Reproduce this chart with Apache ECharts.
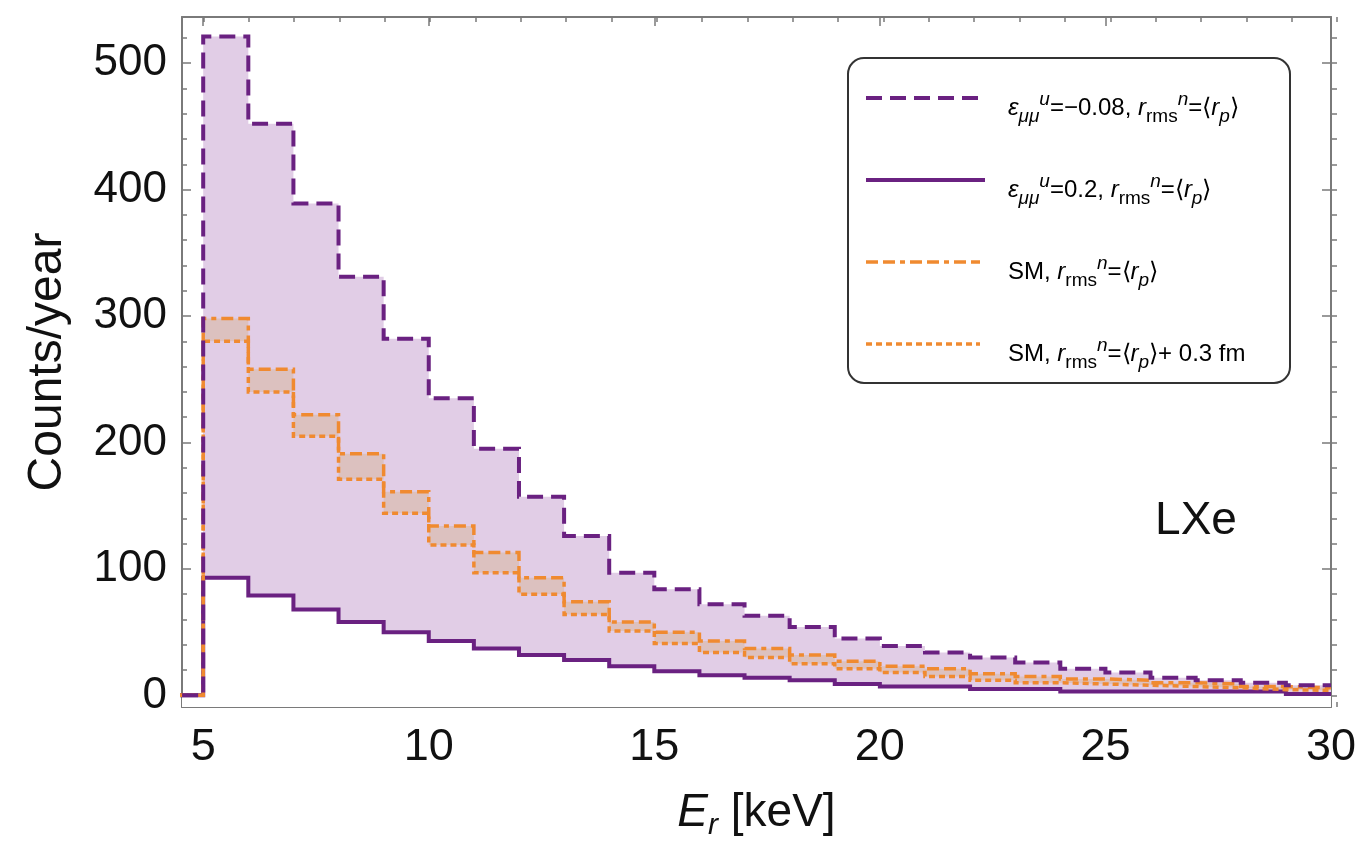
<!DOCTYPE html>
<html>
<head>
<meta charset="utf-8">
<script src="https://cdn.jsdelivr.net/npm/echarts@6/dist/echarts.min.js"></script>
<style>
  html, body { margin: 0; padding: 0; background: #fff; }
  #chart { width: 1359px; height: 852px; }
</style>
</head>
<body>
<div id="chart"></div>
<script>
// Recoil-energy bins (keV): left edges 5..29, last edge 30
const binEdges = [5, 6, 7, 8, 9, 10, 11, 12, 13, 14, 15, 16, 17, 18, 19, 20, 21, 22, 23, 24, 25, 26, 27, 28, 29, 30];

// Counts/year per bin
const epsNeg008 = [521, 452, 389, 331, 282, 235, 195, 157, 126, 97, 84, 72, 63, 54, 45, 39, 34, 30, 26, 21, 18, 14, 12, 10, 8];
const epsPos02 = [93, 79, 68, 58, 50, 43, 37, 32, 28, 23, 19, 16, 14, 12, 9, 7, 7, 5, 5, 3, 3, 3, 3, 3, 1];
const smRp = [298, 258, 222, 191, 161, 134, 113, 93, 74, 58, 50, 43, 37, 32, 27, 23, 21, 17, 15, 13, 12, 10, 9, 7, 6];
const smRpPlus = [280, 240, 205, 171, 144, 119, 97, 80, 64, 51, 41, 34, 30, 25, 21, 18, 15, 12, 10, 9, 8, 7, 6, 4.5, 4];

// Axis ticks
const xMajorTicks = [5, 10, 15, 20, 25, 30];
const xMinorTicks = [5, 6, 7, 8, 9, 10, 11, 12, 13, 14, 15, 16, 17, 18, 19, 20, 21, 22, 23, 24, 25, 26, 27, 28, 29, 30];
const yMajorTicks = [0, 100, 200, 300, 400, 500];
const yMinorTicks = [0, 20, 40, 60, 80, 100, 120, 140, 160, 180, 200, 220, 240, 260, 280, 300, 320, 340, 360, 380, 400, 420, 440, 460, 480, 500, 520];

const PURPLE = '#6a2181';
const ORANGE = '#f08a30';
const LAVENDER = '#e1cde6';
const BAND = '#dcc1bf';
const FRAME = '#7a7a7a';
const FONT = '"Liberation Sans", Arial, Helvetica, sans-serif';

const DASH_EPS = [16, 8];
const DASH_SM = [12, 5, 12, 5, 5, 5];
const DASH_SM_PLUS = [6, 4];

// Histogram outline: zero before the first edge, then one point per bin (step drawn by the line series)
function stepPoints(values) {
  const pts = [[binEdges[0] - 1, 0]];
  values.forEach((v, i) => pts.push([binEdges[i], v]));
  pts.push([binEdges[binEdges.length - 1], values[values.length - 1]]);
  return pts;
}

const X_MIN = 4.53, X_MAX = 30;
const Y_MIN = -9.2, Y_MAX = 536.5;
const gridBox = { left: 182, right: 22, top: 17, bottom: 145, containLabel: false };

function xAxisDef(gridIndex, position, ticks, len, withLabels) {
  return {
    type: 'value', gridIndex, position, min: X_MIN, max: X_MAX,
    axisLine: { show: gridIndex === 0, onZero: false, lineStyle: { color: FRAME, width: 2 } },
    axisTick: { show: true, inside: true, length: len, customValues: ticks, lineStyle: { color: FRAME, width: 1.5 } },
    axisLabel: withLabels ? {
      show: true, customValues: xMajorTicks, fontSize: 45, fontFamily: FONT, color: '#111', margin: 18
    } : { show: false },
    splitLine: { show: false }
  };
}
function yAxisDef(gridIndex, position, ticks, len, withLabels) {
  return {
    type: 'value', gridIndex, position, min: Y_MIN, max: Y_MAX,
    axisLine: { show: gridIndex === 0, onZero: false, lineStyle: { color: FRAME, width: 2 } },
    axisTick: { show: true, inside: true, length: len, customValues: ticks, lineStyle: { color: FRAME, width: 1.5 } },
    axisLabel: withLabels ? {
      show: true, customValues: yMajorTicks, fontSize: 44, fontFamily: FONT, color: '#111', margin: 15
    } : { show: false },
    splitLine: { show: false }
  };
}

const xAxes = [
  xAxisDef(0, 'bottom', xMajorTicks, 9, true),
  xAxisDef(0, 'top', xMajorTicks, 9, false),
  xAxisDef(1, 'bottom', xMinorTicks, 5, false),
  xAxisDef(1, 'top', xMinorTicks, 5, false)
];
xAxes[0].name = '{i|E}{sb|r}{t| [keV]}';
xAxes[0].nameLocation = 'middle';
xAxes[0].nameGap = 78;
xAxes[0].nameTextStyle = {
  fontFamily: FONT, color: '#111',
  rich: {
    i: { fontSize: 46, fontStyle: 'italic', fontFamily: FONT, color: '#111', lineHeight: 56, verticalAlign: 'middle' },
    sb: { fontSize: 30, fontStyle: 'italic', fontFamily: FONT, color: '#111', lineHeight: 30, verticalAlign: 'bottom' },
    t: { fontSize: 46, fontFamily: FONT, color: '#111', lineHeight: 56, verticalAlign: 'middle' }
  }
};

const yAxes = [
  yAxisDef(0, 'left', yMajorTicks, 9, true),
  yAxisDef(0, 'right', yMajorTicks, 9, false),
  yAxisDef(1, 'left', yMinorTicks, 5, false),
  yAxisDef(1, 'right', yMinorTicks, 5, false)
];
yAxes[0].name = 'Counts/year';
yAxes[0].nameLocation = 'middle';
yAxes[0].nameGap = 110;
yAxes[0].nameTextStyle = { fontSize: 48, fontFamily: FONT, color: '#111' };

function fillSeries(values, color, origin) {
  return {
    type: 'line', xAxisIndex: 0, yAxisIndex: 0, step: 'end', symbol: 'none', z: 1,
    data: stepPoints(values), lineStyle: { width: 0, opacity: 0 },
    areaStyle: { color: color, opacity: 1, origin: origin || 'auto' }, silent: true
  };
}
function outlineSeries(name, values, color, type, width) {
  return {
    name, type: 'line', xAxisIndex: 0, yAxisIndex: 0, step: 'end', symbol: 'none', z: 3,
    data: stepPoints(values),
    lineStyle: { color, width, type, cap: 'butt', join: 'miter' }
  };
}

const series = [
  // shaded bands (layered: outer band, SM band, back to lavender, white below lower edge)
  fillSeries(epsNeg008, LAVENDER),
  fillSeries(smRp, BAND),
  fillSeries(smRpPlus, LAVENDER),
  fillSeries(epsPos02, '#ffffff', 'start'),
  // outlines
  outlineSeries('eps0.2', epsPos02, PURPLE, 'solid', 4),
  outlineSeries('smPlus', smRpPlus, ORANGE, DASH_SM_PLUS, 3.5),
  outlineSeries('sm', smRp, ORANGE, DASH_SM, 3.5),
  outlineSeries('eps-0.08', epsNeg008, PURPLE, DASH_EPS, 4)
];

// Legend box contents
const legendRich = {
  t: { fontSize: 24, fontFamily: FONT, color: '#1a1a1a', lineHeight: 36, verticalAlign: 'middle' },
  i: { fontSize: 24, fontFamily: FONT, fontStyle: 'italic', color: '#1a1a1a', lineHeight: 36, verticalAlign: 'middle' },
  sb: { fontSize: 19, fontFamily: FONT, color: '#1a1a1a', lineHeight: 19, verticalAlign: 'bottom' },
  sbi: { fontSize: 19, fontFamily: FONT, fontStyle: 'italic', color: '#1a1a1a', lineHeight: 19, verticalAlign: 'bottom' },
  sp: { fontSize: 19, fontFamily: FONT, fontStyle: 'italic', color: '#1a1a1a', lineHeight: 19, verticalAlign: 'top' }
};
const legendItems = [
  { y: 98, color: PURPLE, dash: DASH_EPS, width: 4, x2: 980,
    text: '{i|ε}{sbi|μμ}{sp|u}{t|=−0.08, }{i|r}{sb|rms}{sp|n}{t|=⟨}{i|r}{sbi|p}{t|⟩}' },
  { y: 180, color: PURPLE, dash: null, width: 4, x2: 985,
    text: '{i|ε}{sbi|μμ}{sp|u}{t|=0.2, }{i|r}{sb|rms}{sp|n}{t|=⟨}{i|r}{sbi|p}{t|⟩}' },
  { y: 262, color: ORANGE, dash: DASH_SM, width: 3.5, x2: 980,
    text: '{t|SM, }{i|r}{sb|rms}{sp|n}{t|=⟨}{i|r}{sbi|p}{t|⟩}' },
  { y: 344, color: ORANGE, dash: DASH_SM_PLUS, width: 3.5, x2: 980,
    text: '{t|SM, }{i|r}{sb|rms}{sp|n}{t|=⟨}{i|r}{sbi|p}{t|⟩+ 0.3 fm}' }
];

const graphics = [
  {
    type: 'rect', z: 10, shape: { x: 848, y: 58, width: 442, height: 325, r: 16 },
    style: { fill: '#fff', stroke: '#333', lineWidth: 2 }
  }
];
legendItems.forEach(it => {
  graphics.push({
    type: 'line', z: 11, shape: { x1: 866, y1: it.y, x2: it.x2, y2: it.y },
    style: { stroke: it.color, lineWidth: it.width, lineDash: it.dash || null }
  });
  graphics.push({
    type: 'text', z: 11, x: 1008, y: it.y + 10,
    style: { text: it.text, rich: legendRich, verticalAlign: 'middle', align: 'left' }
  });
});
graphics.push({
  type: 'text', z: 11, x: 1196, y: 521,
  style: { text: 'LXe', fontSize: 46, fontFamily: FONT, fill: '#111', align: 'center', verticalAlign: 'middle' }
});

const chart = echarts.init(document.getElementById('chart'), null, { renderer: 'canvas' });
chart.setOption({
  animation: false,
  backgroundColor: '#fff',
  grid: [Object.assign({}, gridBox), Object.assign({}, gridBox)],
  xAxis: xAxes,
  yAxis: yAxes,
  series,
  graphic: graphics
});
</script>
</body>
</html>
